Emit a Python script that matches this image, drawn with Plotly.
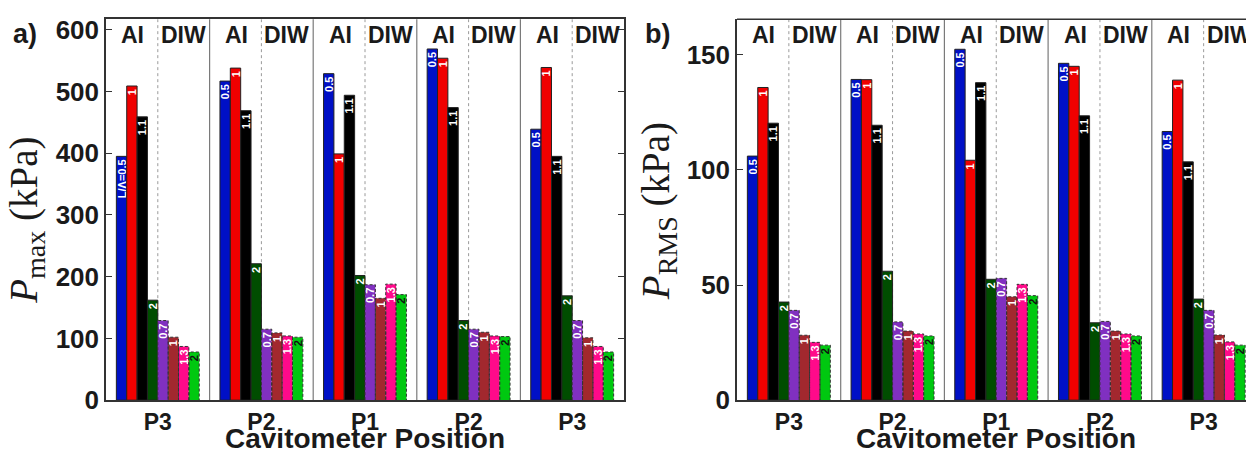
import plotly.graph_objects as go

# ---------------- data ----------------
positions = ["P3", "P2", "P1", "P2", "P3"]

series_names = ["AI L/Λ=0.5", "AI L/Λ=1", "AI L/Λ=1.1", "AI L/Λ=2",
                "DIW L/Λ=0.7", "DIW L/Λ=1", "DIW L/Λ=1.3", "DIW L/Λ=2"]
series_short = ["0.5", "1", "1.1", "2", "0.7", "1", "1.3", "2"]
series_is_diw = [False, False, False, False, True, True, True, True]

# P_max (kPa)
pmax_ai_05 = [395, 517, 529, 569, 439]
pmax_ai_1 = [509, 538, 399, 554, 539]
pmax_ai_11 = [459, 469, 494, 474, 395]
pmax_ai_2 = [162, 221, 202, 129, 169]
pmax_diw_07 = [129, 115, 187, 115, 129]
pmax_diw_1 = [102, 109, 165, 110, 101]
pmax_diw_13 = [87, 104, 188, 104, 87]
pmax_diw_2 = [78, 102, 171, 103, 78]

# P_RMS (kPa)
prms_ai_05 = [106, 139.3, 152.4, 146.3, 116.7]
prms_ai_1 = [135.8, 139.2, 104.2, 145, 139]
prms_ai_11 = [120.3, 119.4, 137.9, 123.5, 103.5]
prms_ai_2 = [42.6, 56, 52.5, 33.6, 43.9]
prms_diw_07 = [39, 34, 52.9, 34.2, 39]
prms_diw_1 = [28.2, 30, 44.9, 30, 28.3]
prms_diw_13 = [25.1, 28.75, 50.3, 28.75, 25.3]
prms_diw_2 = [23.9, 27.9, 45.4, 27.9, 23.9]

pmax_all = [pmax_ai_05, pmax_ai_1, pmax_ai_11, pmax_ai_2,
            pmax_diw_07, pmax_diw_1, pmax_diw_13, pmax_diw_2]
prms_all = [prms_ai_05, prms_ai_1, prms_ai_11, prms_ai_2,
            prms_diw_07, prms_diw_1, prms_diw_13, prms_diw_2]

colors = ["#0010C6", "#F00000", "#000000", "#004D00",
          "#8030C0", "#A2282E", "#FF0A8A", "#00C810"]
text_colors = ["white", "white", "white", "white",
               "white", "white", "white", "#111111"]

y_ticks_a = [0, 100, 200, 300, 400, 500, 600]
y_ticks_b = [0, 50, 100, 150]

# ---------------- layout geometry ----------------
W, H = 1246, 466
GROUP = 10  # group width in x units
SLOT0 = 1   # first bar slot inside a group
TXT = "#1a1a1a"


def px(x):
    return x / W


def py(y):
    return 1 - y / H


fig = go.Figure()

panels = [
    dict(data=pmax_all, xa="x", ya="y"),
    dict(data=prms_all, xa="x2", ya="y2"),
]

for p_i, pan in enumerate(panels):
    for s_i, vals in enumerate(pan["data"]):
        xs = [g * GROUP + SLOT0 + s_i + 0.5 for g in range(len(positions))]
        labels = []
        for g in range(len(positions)):
            if s_i == 0 and g == 0 and p_i == 0:
                labels.append("<b>L/Λ=0.5</b>")
            else:
                labels.append("<b>%s</b>" % series_short[s_i])
        diw = series_is_diw[s_i]
        fig.add_trace(go.Bar(
            x=xs, y=vals, width=1.0,
            name=series_names[s_i], showlegend=False,
            marker=dict(color=colors[s_i],
                        line=dict(color="#222222" if not diw else colors[s_i],
                                  width=1.0 if not diw else 0)),
            text=labels, textposition="inside", insidetextanchor="end",
            textangle=-90, constraintext="none",
            textfont=dict(family="Liberation Sans", size=11, color=text_colors[s_i]),
            xaxis=pan["xa"], yaxis=pan["ya"], hoverinfo="skip",
        ))
        if diw:
            ox, oy = [], []
            for x, v in zip(xs, vals):
                ox += [x - 0.5, x - 0.5, x + 0.5, x + 0.5, None]
                oy += [0, v, v, 0, None]
            fig.add_trace(go.Scatter(
                x=ox, y=oy, mode="lines", showlegend=False,
                line=dict(color="#333333", width=1, dash="3px,2px"),
                xaxis=pan["xa"], yaxis=pan["ya"], hoverinfo="skip",
            ))

# separators between groups and AI/DIW dotted lines
shapes = []
for xa, ya in [("x", "y"), ("x2", "y2")]:
    for g in range(len(positions)):
        if g > 0:
            shapes.append(dict(type="line", xref=xa, yref=ya + " domain",
                               x0=g * GROUP, x1=g * GROUP, y0=0, y1=1,
                               line=dict(color="#7a7a7a", width=1.2), layer="below"))
        shapes.append(dict(type="line", xref=xa, yref=ya + " domain",
                           x0=g * GROUP + GROUP / 2, x1=g * GROUP + GROUP / 2, y0=0, y1=1,
                           line=dict(color="#9a9a9a", width=1, dash="dot"), layer="below"))


def ann(text, x, y, xref="paper", yref="paper", size=23, family="Liberation Sans", angle=0):
    return dict(text=text, x=x, y=y, xref=xref, yref=yref, showarrow=False,
                xanchor="center", yanchor="middle", textangle=angle,
                font=dict(family=family, size=size, color=TXT))


annotations = []
for xa in ["x", "x2"]:
    for g in range(len(positions)):
        annotations.append(ann("<b>AI</b>", g * GROUP + 2.6, py(32), xref=xa))
        annotations.append(ann("<b>DIW</b>", g * GROUP + 7.45, py(32), xref=xa))

# panel letters
annotations.append(ann("<b>a)</b>", px(25), py(31), size=27))
annotations.append(ann("<b>b)</b>", px(657), py(31), size=27))

# y titles
annotations.append(ann("<i>P</i><sub><span style='font-size:28px'>max</span></sub> (kPa)",
                       px(27), py(226), size=39, family="Liberation Serif", angle=-90))
annotations.append(ann("<i>P</i><sub><span style='font-size:28px'>RMS</span></sub> (kPa)",
                       px(658), py(216), size=39, family="Liberation Serif", angle=-90))

# x titles
annotations.append(ann("<b>Cavitometer Position</b>", px(365), py(453), size=28))
annotations.append(ann("<b>Cavitometer Position</b>", px(996), py(453), size=28))

tickvals_x = [g * GROUP + GROUP / 2 for g in range(len(positions))]
ticktext_x = ["<b>%s</b>" % p for p in positions]

axis_line = dict(showline=True, linecolor="#333333", linewidth=1.5, showgrid=False, zeroline=False)

x_dom_a = [px(106), px(624)]
x_dom_b = [px(737), 1.0]
y_dom = [py(413), py(16)]

fig.update_layout(
    width=W, height=H,
    margin=dict(l=0, r=0, t=0, b=0),
    plot_bgcolor="white", paper_bgcolor="white",
    barmode="overlay",
    font=dict(family="Liberation Sans", color=TXT),
    xaxis=dict(domain=x_dom_a, range=[0, 50], anchor="y", mirror=True, ticks="",
               tickvals=tickvals_x, ticktext=ticktext_x,
               tickfont=dict(size=23, family="Liberation Sans", color=TXT), **axis_line),
    yaxis=dict(domain=y_dom, range=[0, 617], anchor="x", mirror="ticks", ticks="inside", ticklen=6,
               tickcolor="#333333", tickvals=y_ticks_a, ticktext=["<b>%d</b>" % v for v in y_ticks_a],
               tickfont=dict(size=26, family="Liberation Sans", color=TXT), **axis_line),
    xaxis2=dict(domain=x_dom_b, range=[0, (1246 - 737) / 10.37], anchor="y2", ticks="",
                tickvals=tickvals_x, ticktext=ticktext_x,
                tickfont=dict(size=23, family="Liberation Sans", color=TXT), **axis_line),
    yaxis2=dict(domain=y_dom, range=[0, 165.4], anchor="x2", ticks="inside", ticklen=6,
                tickcolor="#333333", tickvals=y_ticks_b, ticktext=["<b>%d</b>" % v for v in y_ticks_b],
                tickfont=dict(size=26, family="Liberation Sans", color=TXT), **axis_line),
    shapes=shapes,
    annotations=annotations,
)

# top border line for right panel (axis is cut off at the right edge)
fig.add_shape(type="line", xref="x2 domain", yref="y2 domain", x0=0, x1=1, y0=1, y1=1,
              line=dict(color="#333333", width=1.5))

fig.write_html("out.html", config={"displayModeBar": False},
               post_script="document.body.style.margin='0';document.documentElement.style.overflow='hidden';")
